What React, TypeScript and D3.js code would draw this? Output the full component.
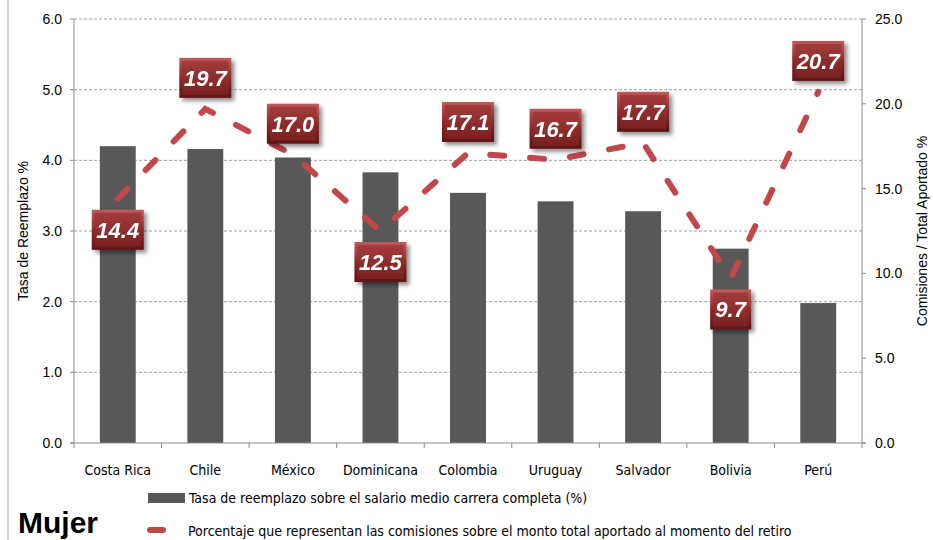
import React from "react";
import * as d3 from "d3";

const categories = ["Costa Rica", "Chile", "México", "Dominicana", "Colombia", "Uruguay", "Salvador", "Bolivia", "Perú"];
const tasaReemplazo = [4.2, 4.16, 4.04, 3.83, 3.54, 3.42, 3.28, 2.75, 1.98];
const comisiones = [14.4, 19.7, 17.0, 12.5, 17.1, 16.7, 17.7, 9.7, 20.7];
const leftTicks = [0, 1, 2, 3, 4, 5, 6];
const rightTicks = [0, 5, 10, 15, 20, 25];
const legendBar = "Tasa de reemplazo sobre el salario medio carrera completa (%)";
const legendLine = "Porcentaje que representan las comisiones sobre el monto total aportado al momento del retiro";
const leftTitle = "Tasa de Reemplazo %";
const rightTitle = "Comisiones / Total Aportado %";
const cornerTitle = "Mujer";

const W = 933, H = 540;
const m = { left: 74, right: 862, top: 19, bottom: 443 };
const narrow = "'Liberation Sans Narrow', 'DejaVu Sans Condensed', sans-serif";
const sans = "'Liberation Sans', Arial, sans-serif";

export default function App() {
  const x = d3.scaleBand<string>().domain(categories).range([m.left, m.right]).paddingInner(0).paddingOuter(0);
  const yL = d3.scaleLinear().domain([0, 6]).range([m.bottom, m.top]);
  const yR = d3.scaleLinear().domain([0, 25]).range([m.bottom, m.top]);
  const bw = x.bandwidth() * 0.41;
  const cx = (c: string) => (x(c) as number) + x.bandwidth() / 2;
  const line = d3.line<number>().x((_, i) => cx(categories[i])).y((v) => yR(v));

  // label goes below only at a clear dip of the line
  const isBelow = (i: number) => {
    const v = comisiones[i];
    const prev = i > 0 ? comisiones[i - 1] : Infinity;
    const next = i < comisiones.length - 1 ? comisiones[i + 1] : Infinity;
    return v < Math.min(prev, next) - 2;
  };

  return (
    <svg width={W} height={H} style={{ position: "absolute", left: 0, top: 0, background: "#fff" }}>
      <defs>
        <linearGradient id="boxg" x1="0" y1="0" x2="0" y2="1">
          <stop offset="0" stopColor="#c25a5a" />
          <stop offset="0.5" stopColor="#8e2828" />
          <stop offset="1" stopColor="#5e1414" />
        </linearGradient>
        <linearGradient id="boxi" x1="0" y1="0" x2="0" y2="1">
          <stop offset="0" stopColor="#a33c3c" />
          <stop offset="1" stopColor="#7a2020" />
        </linearGradient>
        <filter id="sh" x="-30%" y="-30%" width="160%" height="160%">
          <feDropShadow dx="3" dy="3" stdDeviation="2" floodColor="#000" floodOpacity="0.45" />
        </filter>
      </defs>
      <rect x={0} y={0} width={W} height={H} fill="#fff" />
      <line x1={8} x2={8} y1={0} y2={H} stroke="#a6a6a6" strokeWidth={1} />

      {/* gridlines */}
      {leftTicks.filter((t) => t > 0).map((t) => (
        <line key={"g" + t} x1={m.left} x2={m.right} y1={yL(t)} y2={yL(t)} stroke="#a0a0a0" strokeWidth={1} strokeDasharray="3 2" />
      ))}

      {/* bars */}
      {categories.map((c, i) => (
        <rect key={"b" + c} x={cx(c) - bw / 2} y={yL(tasaReemplazo[i])} width={bw} height={m.bottom - yL(tasaReemplazo[i])} fill="#585858" />
      ))}

      {/* axes */}
      <line x1={m.left} x2={m.left} y1={m.top} y2={m.bottom} stroke="#8c8c8c" />
      <line x1={m.right} x2={m.right} y1={m.top} y2={m.bottom} stroke="#8c8c8c" />
      <line x1={m.left - 4} x2={m.right + 4} y1={m.bottom} y2={m.bottom} stroke="#8c8c8c" />
      {leftTicks.map((t) => (
        <g key={"lt" + t}>
          <line x1={m.left - 4} x2={m.left} y1={yL(t)} y2={yL(t)} stroke="#8c8c8c" />
          <text x={m.left - 12} y={yL(t) + 5} textAnchor="end" fontFamily={sans} fontSize={14} fill="#000">{t.toFixed(1)}</text>
        </g>
      ))}
      {rightTicks.map((t) => (
        <g key={"rt" + t}>
          <line x1={m.right} x2={m.right + 4} y1={yR(t)} y2={yR(t)} stroke="#8c8c8c" />
          <text x={m.right + 13} y={yR(t) + 5} textAnchor="start" fontFamily={sans} fontSize={14} fill="#000">{t.toFixed(1)}</text>
        </g>
      ))}
      {categories.map((c) => (
        <line key={"ct" + c} x1={x(c) as number} x2={x(c) as number} y1={m.bottom} y2={m.bottom + 5} stroke="#8c8c8c" />
      ))}
      <line x1={m.right} x2={m.right} y1={m.bottom} y2={m.bottom + 5} stroke="#8c8c8c" />
      {categories.map((c) => (
        <text key={"cl" + c} x={cx(c)} y={475} textAnchor="middle" fontFamily={narrow} fontSize={14} fill="#000">{c}</text>
      ))}

      {/* titles */}
      <text transform={`translate(28,${(m.top + m.bottom) / 2}) rotate(-90)`} textAnchor="middle" fontFamily={sans} fontSize={14} fill="#000">{leftTitle}</text>
      <text transform={`translate(927,${(m.top + m.bottom) / 2}) rotate(-90)`} textAnchor="middle" fontFamily={sans} fontSize={14} fill="#000">{rightTitle}</text>

      {/* line */}
      <path d={line(comisiones) as string} fill="none" stroke="#c0474a" strokeWidth={6} strokeLinecap="round" strokeDasharray="14 26" />

      {/* labels */}
      {comisiones.map((v, i) => {
        const px = cx(categories[i]);
        const py = yR(v) + (isBelow(i) ? 31 : -31);
        const txt = v.toFixed(1);
        const w = txt.length === 3 ? 41 : 52;
        const h = 40;
        return (
          <g key={"lab" + i} filter="url(#sh)">
            <rect x={px - w / 2} y={py - h / 2} width={w} height={h} fill="url(#boxg)" />
            <rect x={px - w / 2 + 3} y={py - h / 2 + 3} width={w - 6} height={h - 6} fill="url(#boxi)" />
            <text x={px} y={py + 8} textAnchor="middle" fontFamily={sans} fontWeight="bold" fontStyle="italic" fontSize={22} fill="#fff">{txt}</text>
          </g>
        );
      })}

      {/* legend */}
      <rect x={148} y={493} width={37} height={10} fill="#585858" />
      <text x={189} y={503} fontFamily={narrow} fontSize={14} fill="#000">{legendBar}</text>
      <line x1={150} x2={163} y1={530} y2={530} stroke="#c0474a" strokeWidth={6} strokeLinecap="round" />
      <text x={188} y={536} fontFamily={narrow} fontSize={14} fill="#000">{legendLine}</text>

      <text x={18} y={533} fontFamily={sans} fontWeight="bold" fontSize={30} fill="#000">{cornerTitle}</text>
    </svg>
  );
}
